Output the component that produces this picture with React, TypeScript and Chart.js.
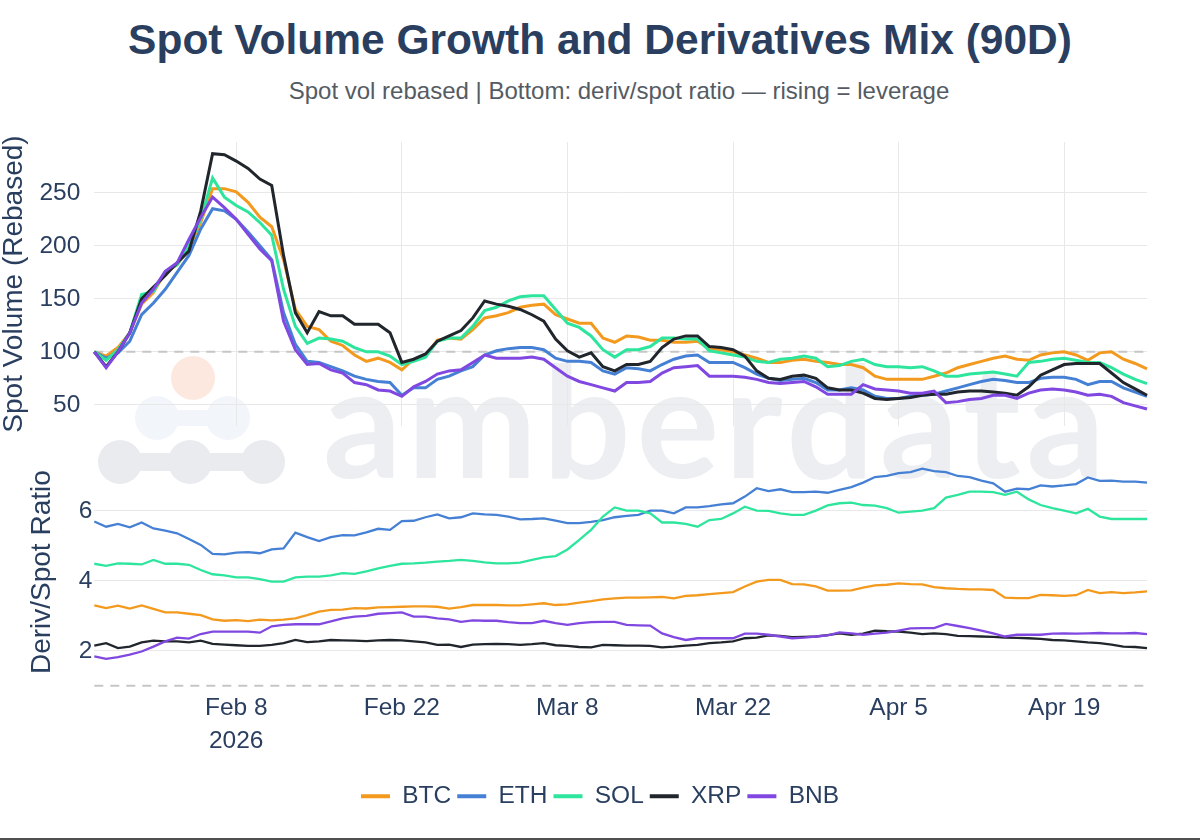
import React, { useEffect, useRef } from "react";
import { Chart, registerables } from "chart.js";

Chart.register(...registerables);

const FONT = '"Liberation Sans", Arial, Helvetica, sans-serif';
const INK = "#2a3f5f";
const GRID = "#e8e8e8";
const NONE = "rgba(0,0,0,0)";
const REF = "#c6c6c6";

// ---------- categories ----------
const START_DATE = "2026-01-27";
const DAY_COUNT = 90;
function buildDates(start: string, n: number): string[] {
  const out: string[] = [];
  const d0 = new Date(start + "T00:00:00Z").getTime();
  for (let i = 0; i < n; i++) out.push(new Date(d0 + i * 86400000).toISOString().slice(0, 10));
  return out;
}
const DATES = buildDates(START_DATE, DAY_COUNT);
const TICK_DATES = ["2026-02-08", "2026-02-22", "2026-03-08", "2026-03-22", "2026-04-05", "2026-04-19"];
const TICK_LABELS = ["Feb 8", "Feb 22", "Mar 8", "Mar 22", "Apr 5", "Apr 19"];
const YEAR_LABEL = "2026";

const COINS = ["BTC", "ETH", "SOL", "XRP", "BNB"];
const COLORS = ["#F39A1E", "#4580D4", "#2EE59D", "#20262C", "#8048E0"];

// ---------- top panel: spot volume rebased ----------
const SPOT_BTC = [100, 96, 104, 118, 145, 156, 175, 182, 198, 222,
  254, 254, 251, 241, 227, 218, 187, 140, 124, 121,
  110, 106, 97, 91, 94, 90, 83, 93, 96, 111,
  113, 112, 121, 132, 134, 137, 142, 144, 145, 135,
  131, 127, 127, 113, 109, 115, 114, 111, 111, 109,
  109, 110, 103, 102, 100, 97, 94, 90, 90, 92,
  93, 91, 90, 88, 88, 85, 77, 74, 74, 74,
  74, 77, 80, 85, 88, 91, 94, 96, 93, 92,
  97, 99, 100, 97, 92, 99, 100, 93, 89, 84];
const SPOT_ETH = [100, 94, 99, 110, 135, 146, 159, 175, 191, 216,
  235, 233, 225, 213, 200, 187, 137, 107, 91, 90,
  86, 82, 77, 74, 72, 71, 59, 66, 66, 74,
  77, 82, 86, 97, 101, 103, 104, 104, 102, 94,
  91, 91, 90, 82, 79, 85, 84, 82, 88, 93,
  96, 97, 90, 90, 90, 85, 79, 75, 73, 74,
  75, 71, 64, 64, 66, 64, 58, 56, 56, 58,
  59, 60, 63, 66, 69, 72, 74, 73, 71, 71,
  75, 76, 76, 74, 69, 72, 72, 66, 62, 58];
const SPOT_SOL = [100, 92, 102, 118, 154, 157, 176, 182, 200, 225,
  264, 246, 238, 232, 222, 210, 159, 124, 108, 113,
  112, 110, 104, 100, 100, 96, 88, 91, 95, 110,
  113, 113, 124, 139, 142, 148, 152, 153, 153, 140,
  127, 123, 115, 102, 95, 102, 102, 105, 113, 113,
  112, 112, 101, 99, 97, 95, 91, 90, 93, 94,
  96, 94, 86, 87, 91, 93, 88, 86, 86, 85,
  86, 82, 77, 77, 79, 80, 81, 79, 77, 90,
  91, 93, 94, 92, 90, 90, 85, 79, 74, 70];
const SPOT_XRP = [100, 86, 100, 118, 150, 161, 172, 184, 195, 233,
  287, 286, 280, 273, 263, 257, 191, 137, 118, 138,
  134, 134, 126, 126, 126, 118, 90, 93, 98, 110,
  115, 120, 132, 148, 145, 143, 140, 135, 129, 112,
  101, 95, 99, 86, 82, 88, 88, 91, 104, 112,
  115, 115, 105, 104, 102, 96, 82, 75, 74, 77,
  78, 75, 66, 64, 64, 61, 56, 55, 56, 57,
  59, 60, 60, 62, 63, 63, 62, 61, 59, 67,
  78, 83, 88, 89, 89, 89, 80, 71, 65, 59];
const SPOT_BNB = [100, 85, 100, 118, 146, 159, 176, 184, 206, 227,
  246, 236, 225, 211, 197, 186, 129, 102, 88, 89,
  83, 80, 71, 69, 64, 63, 58, 67, 72, 79,
  82, 83, 90, 97, 94, 94, 94, 95, 93, 85,
  77, 72, 69, 66, 63, 71, 71, 72, 80, 85,
  86, 87, 77, 77, 77, 76, 74, 71, 70, 71,
  72, 67, 60, 60, 60, 69, 65, 64, 63, 61,
  61, 63, 52, 53, 55, 56, 59, 59, 56, 61,
  64, 65, 64, 62, 59, 60, 58, 52, 49, 46];

// ---------- bottom panel: deriv / spot ratio ----------
const RATIO_BTC = [3.30, 3.22, 3.29, 3.21, 3.30, 3.20, 3.10, 3.10, 3.06, 3.02,
  2.90, 2.86, 2.88, 2.85, 2.89, 2.87, 2.89, 2.93, 3.02, 3.12,
  3.17, 3.18, 3.22, 3.21, 3.24, 3.25, 3.26, 3.27, 3.27, 3.26,
  3.21, 3.25, 3.31, 3.31, 3.31, 3.30, 3.30, 3.33, 3.36, 3.31,
  3.33, 3.38, 3.42, 3.47, 3.50, 3.52, 3.52, 3.53, 3.54, 3.50,
  3.57, 3.59, 3.62, 3.65, 3.68, 3.84, 3.98, 4.03, 4.03, 3.91,
  3.90, 3.84, 3.72, 3.72, 3.73, 3.81, 3.87, 3.89, 3.93, 3.91,
  3.90, 3.82, 3.79, 3.77, 3.76, 3.76, 3.74, 3.52, 3.51, 3.51,
  3.60, 3.59, 3.57, 3.59, 3.74, 3.65, 3.68, 3.65, 3.67, 3.70];
const RATIO_ETH = [5.70, 5.55, 5.63, 5.53, 5.67, 5.50, 5.44, 5.36, 5.20, 5.03,
  4.77, 4.76, 4.81, 4.82, 4.79, 4.90, 4.93, 5.38, 5.25, 5.14,
  5.25, 5.31, 5.30, 5.39, 5.49, 5.46, 5.71, 5.72, 5.82, 5.90,
  5.79, 5.82, 5.93, 5.90, 5.89, 5.84, 5.76, 5.77, 5.79, 5.72,
  5.65, 5.65, 5.69, 5.74, 5.82, 5.86, 5.89, 6.01, 6.01, 5.93,
  6.10, 6.10, 6.14, 6.19, 6.22, 6.41, 6.65, 6.57, 6.62, 6.54,
  6.54, 6.55, 6.52, 6.60, 6.68, 6.81, 6.97, 7.00, 7.08, 7.11,
  7.21, 7.14, 7.11, 7.00, 6.97, 6.87, 6.79, 6.55, 6.64, 6.62,
  6.73, 6.70, 6.73, 6.77, 6.96, 6.86, 6.87, 6.84, 6.84, 6.81];
const RATIO_SOL = [4.49, 4.43, 4.50, 4.49, 4.47, 4.60, 4.49, 4.49, 4.46, 4.31,
  4.19, 4.16, 4.10, 4.10, 4.05, 3.98, 3.98, 4.10, 4.12, 4.12,
  4.16, 4.22, 4.20, 4.27, 4.36, 4.43, 4.49, 4.50, 4.52, 4.55,
  4.57, 4.60, 4.57, 4.53, 4.50, 4.50, 4.52, 4.60, 4.67, 4.71,
  4.90, 5.17, 5.46, 5.84, 6.10, 6.01, 6.01, 5.93, 5.67, 5.67,
  5.63, 5.55, 5.74, 5.77, 5.93, 6.12, 6.01, 6.00, 5.93, 5.89,
  5.89, 6.01, 6.16, 6.22, 6.24, 6.17, 6.15, 6.08, 5.95, 5.98,
  6.01, 6.08, 6.38, 6.46, 6.55, 6.55, 6.54, 6.46, 6.55, 6.33,
  6.17, 6.08, 6.01, 5.93, 6.06, 5.84, 5.77, 5.77, 5.77, 5.77];
const RATIO_XRP = [2.15, 2.22, 2.08, 2.12, 2.24, 2.29, 2.27, 2.27, 2.24, 2.29,
  2.20, 2.18, 2.16, 2.14, 2.14, 2.17, 2.22, 2.31, 2.25, 2.27,
  2.31, 2.30, 2.29, 2.28, 2.30, 2.31, 2.30, 2.27, 2.24, 2.17,
  2.18, 2.11, 2.18, 2.19, 2.20, 2.19, 2.17, 2.19, 2.22, 2.16,
  2.14, 2.11, 2.10, 2.17, 2.16, 2.15, 2.15, 2.14, 2.10, 2.12,
  2.15, 2.17, 2.22, 2.24, 2.27, 2.36, 2.38, 2.44, 2.43, 2.39,
  2.40, 2.41, 2.45, 2.50, 2.46, 2.49, 2.58, 2.56, 2.55, 2.52,
  2.48, 2.50, 2.48, 2.43, 2.42, 2.41, 2.40, 2.38, 2.37, 2.36,
  2.34, 2.31, 2.30, 2.27, 2.24, 2.22, 2.18, 2.12, 2.11, 2.08];
const RATIO_BNB = [1.84, 1.77, 1.82, 1.89, 1.98, 2.12, 2.27, 2.38, 2.35, 2.48,
  2.55, 2.55, 2.55, 2.55, 2.52, 2.70, 2.74, 2.76, 2.76, 2.76,
  2.84, 2.93, 2.98, 3.00, 3.06, 3.08, 3.10, 2.98, 2.98, 2.93,
  2.90, 2.83, 2.87, 2.86, 2.86, 2.82, 2.79, 2.79, 2.86, 2.79,
  2.74, 2.79, 2.82, 2.83, 2.83, 2.74, 2.73, 2.72, 2.50, 2.39,
  2.31, 2.36, 2.36, 2.36, 2.36, 2.49, 2.49, 2.46, 2.41, 2.36,
  2.38, 2.41, 2.44, 2.53, 2.50, 2.46, 2.49, 2.52, 2.58, 2.64,
  2.65, 2.65, 2.77, 2.71, 2.65, 2.58, 2.50, 2.41, 2.46, 2.46,
  2.46, 2.49, 2.50, 2.49, 2.50, 2.51, 2.50, 2.50, 2.51, 2.48];

const SPOT_SERIES = [SPOT_BTC, SPOT_ETH, SPOT_SOL, SPOT_XRP, SPOT_BNB];
const RATIO_SERIES = [RATIO_BTC, RATIO_ETH, RATIO_SOL, RATIO_XRP, RATIO_BNB];

const TOP_TICKS = [50, 100, 150, 200, 250];
const BOTTOM_TICKS = [2, 4, 6];

const TITLE = "Spot Volume Growth and Derivatives Mix (90D)";
const SUBTITLE = "Spot vol rebased | Bottom: deriv/spot ratio \u2014 rising = leverage";
const TOP_AXIS_TITLE = "Spot Volume (Rebased)";
const BOTTOM_AXIS_TITLE = "Deriv/Spot Ratio";

const isTick = (list: number[], v: number) => list.some((t) => Math.abs(t - v) < 1e-6);

const refLinePlugin = {
  id: "refLine",
  beforeDatasetsDraw(chart: any, _args: any, opts: any) {
    if (!opts || opts.value == null) return;
    const scale = chart.scales.y;
    const y = scale.getPixelForValue(opts.value);
    const { left, right } = chart.chartArea;
    const ctx = chart.ctx;
    ctx.save();
    ctx.strokeStyle = REF;
    ctx.lineWidth = 2;
    ctx.setLineDash([9, 7]);
    ctx.beginPath();
    ctx.moveTo(left, y);
    ctx.lineTo(right, y);
    ctx.stroke();
    ctx.restore();
  },
};

function datasets(series: number[][], width: number) {
  return COINS.map((name, k) => ({
    label: name,
    data: series[k],
    borderColor: COLORS[k],
    backgroundColor: COLORS[k],
    borderWidth: width,
    pointRadius: 0,
    pointHoverRadius: 0,
    tension: 0,
    fill: false,
    order: COINS.length - k,
  }));
}

const xGridColor = (c: any) => (TICK_DATES.includes(DATES[c.index]) ? GRID : NONE);

export default function App() {
  const topRef = useRef<HTMLCanvasElement>(null);
  const botRef = useRef<HTMLCanvasElement>(null);

  useEffect(() => {
    Chart.defaults.font.family = FONT;
    const top = new Chart(topRef.current as HTMLCanvasElement, {
      type: "line",
      data: { labels: DATES, datasets: datasets(SPOT_SERIES, 3) as any },
      plugins: [refLinePlugin],
      options: {
        responsive: true,
        maintainAspectRatio: false,
        animation: false,
        events: [],
        layout: { padding: { left: 0, right: 53, top: 12, bottom: 0 } },
        plugins: {
          legend: { display: false },
          tooltip: { enabled: false },
          refLine: { value: 100 },
        } as any,
        scales: {
          x: {
            type: "category",
            border: { display: false },
            grid: { color: xGridColor, drawTicks: false, lineWidth: 1 },
            ticks: { display: false, autoSkip: false },
            afterFit: (s: any) => { s.height = 14; },
          },
          y: {
            min: 30,
            max: 298,
            border: { display: false },
            grid: {
              color: (c: any) => (c.tick && isTick(TOP_TICKS, c.tick.value) ? GRID : NONE),
              drawTicks: true,
              tickLength: 14,
              tickColor: NONE,
            },
            afterBuildTicks: (s: any) => { s.ticks = TOP_TICKS.map((v) => ({ value: v })); },
            ticks: {
              padding: 0,
              color: INK,
              font: { size: 24.5, lineHeight: 0.8 },
              callback: (v: any) => String(v),
            },
            title: { display: true, text: TOP_AXIS_TITLE, color: INK, font: { size: 28 }, padding: { top: -3, bottom: 0 } },
            afterFit: (s: any) => { s.width = 94.3; },
          },
        },
      } as any,
    });

    const bot = new Chart(botRef.current as HTMLCanvasElement, {
      type: "line",
      data: { labels: DATES, datasets: datasets(RATIO_SERIES, 2.3) as any },
      plugins: [refLinePlugin],
      options: {
        responsive: true,
        maintainAspectRatio: false,
        animation: false,
        events: [],
        layout: { padding: { left: 53, right: 53, top: 15, bottom: 21.5 } },
        plugins: {
          tooltip: { enabled: false },
          refLine: { value: 1 },
          legend: {
            display: true,
            position: "bottom",
            labels: {
              boxWidth: 29,
              boxHeight: 4,
              padding: 6,
              color: INK,
              font: { size: 24.5 },
              generateLabels: (chart: any) =>
                chart.data.datasets.map((ds: any, i: number) => ({
                  text: ds.label,
                  fillStyle: ds.borderColor,
                  strokeStyle: ds.borderColor,
                  lineWidth: 0,
                  hidden: false,
                  datasetIndex: i,
                  fontColor: INK,
                })),
            },
          },
        } as any,
        scales: {
          x: {
            type: "category",
            border: { display: false },
            grid: { color: xGridColor, drawTicks: false, lineWidth: 1 },
            ticks: {
              autoSkip: false,
              maxRotation: 0,
              minRotation: 0,
              padding: 2,
              color: INK,
              font: { size: 24.5, lineHeight: 1.35 },
              callback: (_v: any, i: number) => {
                const k = TICK_DATES.indexOf(DATES[i]);
                if (k < 0) return null;
                return k === 0 ? [TICK_LABELS[k], YEAR_LABEL] : TICK_LABELS[k];
              },
            },
            afterFit: (s: any) => { s.height = 88.7; },
          },
          y: {
            min: 0.9,
            max: 7.6,
            border: { display: false },
            grid: { color: (c: any) => (c.tick && isTick(BOTTOM_TICKS, c.tick.value) ? GRID : NONE), drawTicks: false },
            afterBuildTicks: (s: any) => { s.ticks = BOTTOM_TICKS.map((v) => ({ value: v })); },
            ticks: {
              padding: 2,
              color: INK,
              font: { size: 24.5, lineHeight: 0.8 },
              callback: (v: any) => String(Math.round(Number(v))),
            },
            title: { display: true, text: BOTTOM_AXIS_TITLE, color: INK, font: { size: 28 }, padding: { top: -27.3, bottom: 0 } },
            afterFit: (s: any) => { s.width = 41.3; },
          },
        },
      } as any,
    });

    return () => {
      top.destroy();
      bot.destroy();
    };
  }, []);

  return (
    <div style={{ position: "fixed", left: 0, top: 0, width: 1200, height: 840, background: "#fff", overflow: "hidden", fontFamily: FONT }}>
      <svg width={1200} height={840} style={{ position: "absolute", left: 0, top: 0 }}>
        <circle cx={193} cy={378} r={22} fill="#fde8df" />
        <g fill="#f2f5fa">
          <circle cx={157} cy={418} r={22} />
          <circle cx={228} cy={418} r={22} />
          <rect x={157} y={410} width={71} height={16} />
        </g>
        <g fill="#e9ebef">
          <circle cx={120} cy={462} r={22} />
          <circle cx={190} cy={462} r={22} />
          <circle cx={263} cy={462} r={22} />
          <rect x={120} y={453} width={143} height={18} />
        </g>
        <text x={323} y={478} fontFamily="Lato, 'Open Sans', sans-serif" fontWeight={700} fontSize={155} fill="#eceef2" textLength={782} lengthAdjust="spacing">
          amberdata
        </text>
      </svg>
      <div style={{ position: "absolute", left: 0, top: 19, width: 1200, textAlign: "center", fontSize: 42.5, lineHeight: "42.5px", fontWeight: 700, color: INK, whiteSpace: "nowrap" }}>
        {TITLE}
      </div>
      <div style={{ position: "absolute", left: 619, top: 78.7, transform: "translateX(-50%)", fontSize: 24, lineHeight: "24px", color: "#555b63", whiteSpace: "nowrap" }}>
        {SUBTITLE}
      </div>
      <div style={{ position: "absolute", left: 0, top: 130, width: 1200, height: 310 }}>
        <canvas ref={topRef} />
      </div>
      <div style={{ position: "absolute", left: 0, top: 440, width: 1200, height: 400 }}>
        <canvas ref={botRef} />
      </div>
      <div style={{ position: "absolute", left: 0, top: 838, width: 1200, height: 2, background: "#505050" }} />
    </div>
  );
}
